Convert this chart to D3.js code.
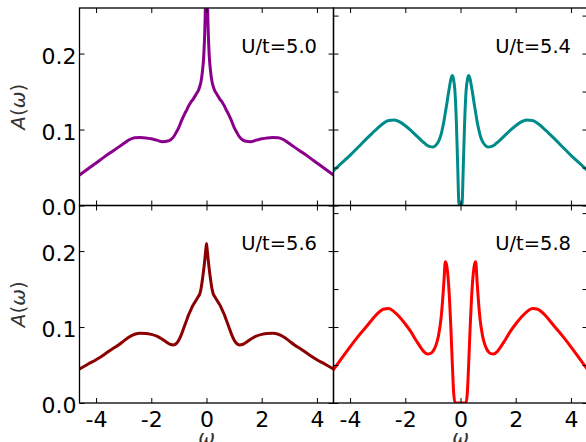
<!DOCTYPE html>
<html>
<head>
<meta charset="utf-8">
<script src="https://cdn.jsdelivr.net/npm/d3@7"></script>
<style>
  html, body { margin: 0; padding: 0; background: #fff; }
  svg { display: block; font-family: "DejaVu Sans", sans-serif; }
</style>
</head>
<body>
<svg id="chart" width="586" height="442"></svg>
<script>
// Frequency grid (omega) shared by all four spectra
const omega = [-4.6,-4.3,-4.0,-3.7,-3.4,-3.2,-3.0,-2.8,-2.6,-2.4,-2.2,-2.0,-1.8,-1.6,-1.4,-1.3,-1.2,-1.1,-1.0,-0.9,-0.8,-0.7,-0.65,-0.6,-0.55,-0.5,-0.45,-0.4,-0.35,-0.3,-0.25,-0.2,-0.15,-0.1,-0.06,-0.03,
  0,
  0.03,0.06,0.1,0.15,0.2,0.25,0.3,0.35,0.4,0.45,0.5,0.55,0.6,0.65,0.7,0.8,0.9,1.0,1.1,1.2,1.3,1.4,1.6,1.8,2.0,2.2,2.4,2.6,2.8,3.0,3.2,3.4,3.7,4.0,4.3,4.6];

// Spectral function A(omega) for each interaction strength
const a50 = [0.0400,0.0480,0.0560,0.0640,0.0715,0.0765,0.0815,0.0865,0.0892,0.0895,0.0890,0.0878,0.0860,0.0840,0.0848,0.0865,0.090,0.096,0.103,0.112,0.120,0.127,0.131,0.134,0.137,0.139,0.142,0.145,0.148,0.151,0.156,0.163,0.176,0.197,0.232,0.285,
  0.40,
  0.285,0.232,0.197,0.176,0.163,0.156,0.151,0.148,0.145,0.142,0.139,0.137,0.134,0.131,0.127,0.120,0.112,0.103,0.096,0.090,0.0865,0.0848,0.0840,0.0860,0.0878,0.0890,0.0895,0.0892,0.0865,0.0815,0.0765,0.0715,0.0640,0.0560,0.0480,0.0400];

const a54 = [0.046,0.056,0.066,0.077,0.088,0.095,0.102,0.108,0.112,0.1125,0.110,0.105,0.099,0.092,0.085,0.082,0.079,0.0775,0.077,0.079,0.084,0.094,0.102,0.111,0.122,0.133,0.145,0.156,0.166,0.171,0.166,0.150,0.11,0.05,0.004,0.0,
  0.0,
  0.0,0.004,0.05,0.11,0.150,0.166,0.171,0.166,0.156,0.145,0.133,0.122,0.111,0.102,0.094,0.084,0.079,0.077,0.0775,0.079,0.082,0.085,0.092,0.099,0.105,0.110,0.1125,0.112,0.108,0.102,0.095,0.088,0.077,0.066,0.056,0.046];

const a56 = [0.0447,0.0510,0.0570,0.0640,0.0715,0.0760,0.0815,0.0870,0.0905,0.0917,0.0915,0.0903,0.0880,0.0840,0.0790,0.0770,0.0765,0.078,0.083,0.091,0.101,0.111,0.116,0.120,0.124,0.128,0.131,0.134,0.137,0.140,0.143,0.150,0.162,0.176,0.189,0.200,
  0.210,
  0.200,0.189,0.176,0.162,0.150,0.143,0.140,0.137,0.134,0.131,0.128,0.124,0.120,0.116,0.111,0.101,0.091,0.083,0.078,0.0765,0.0770,0.0790,0.0840,0.0880,0.0903,0.0915,0.0917,0.0905,0.0870,0.0815,0.0760,0.0715,0.0640,0.0570,0.0510,0.0447];

const a58 = [0.044,0.059,0.074,0.088,0.101,0.110,0.118,0.1235,0.1245,0.120,0.113,0.104,0.094,0.082,0.071,0.0665,0.0645,0.065,0.068,0.075,0.088,0.113,0.134,0.160,0.186,0.181,0.165,0.138,0.100,0.055,0.015,0.0,0.0,0.0,0.0,0.0,
  0.0,
  0.0,0.0,0.0,0.0,0.0,0.015,0.055,0.100,0.138,0.165,0.181,0.186,0.160,0.134,0.113,0.088,0.075,0.068,0.065,0.0645,0.0665,0.071,0.082,0.094,0.104,0.113,0.120,0.1245,0.1235,0.118,0.110,0.101,0.088,0.074,0.059,0.044];

const panelLabels = ["U/t=5.0", "U/t=5.4", "U/t=5.6", "U/t=5.8"];
const xTicks = [-4, -2, 0, 2, 4];
const yTicksMajor = [0, 0.1, 0.2];
const yTicksFine = [0, 0.05, 0.1, 0.15, 0.2, 0.25];

// Layout and styling
const lineColors = ["#8b008b", "#008b8b", "#8b0000", "#ff0000"];
const W = 254, H = 197.5;
const colLeft = [79.5, 333.5];
const rowTop = [8, 205.5];

const x = d3.scaleLinear().domain([-4.6, 4.6]).range([0, W]);
const y = d3.scaleLinear().domain([0, 0.26]).range([H, 0]);

const svg = d3.select("#chart");
const seriesList = [a50, a54, a56, a58];

const line = d3.line()
  .x(d => x(d[0]))
  .y(d => y(d[1]))
  .curve(d3.curveMonotoneX);

function styleAxis(g) {
  g.select(".domain").remove();
  g.selectAll(".tick line").attr("stroke", "#000").attr("stroke-width", 1);
  g.selectAll(".tick text").attr("fill", "#000").style("font-size", "22px")
    .style("font-family", "'DejaVu Sans', sans-serif");
}

seriesList.forEach((vals, i) => {
  const col = i % 2, row = Math.floor(i / 2);
  const g = svg.append("g").attr("transform", `translate(${colLeft[col]},${rowTop[row]})`);

  const clipId = "clip" + i;
  g.append("clipPath").attr("id", clipId)
    .append("rect").attr("x", 0).attr("y", 0).attr("width", W).attr("height", H);

  const pts = omega.map((w, k) => [w, vals[k]]);
  g.append("path")
    .attr("clip-path", `url(#${clipId})`)
    .attr("d", line(pts))
    .attr("fill", "none")
    .attr("stroke", lineColors[i])
    .attr("stroke-width", 3)
    .attr("stroke-linejoin", "round")
    .attr("stroke-linecap", "round");

  // Inward ticks on all four sides
  const showX = row === 1;
  g.append("g").attr("transform", `translate(0,${H})`)
    .call(d3.axisBottom(x).tickValues(xTicks).tickSizeInner(-5).tickSizeOuter(0).tickPadding(8)
      .tickFormat(d => showX ? String(d) : ""))
    .call(styleAxis);
  g.append("g")
    .call(d3.axisTop(x).tickValues(xTicks).tickSizeInner(-5).tickSizeOuter(0).tickFormat(() => ""))
    .call(styleAxis);

  const yt = col === 0 ? yTicksMajor : yTicksFine;
  g.append("g")
    .call(d3.axisLeft(y).tickValues(yt).tickSizeInner(-5).tickSizeOuter(0).tickPadding(3)
      .tickFormat(d => col === 0 ? d3.format(".1f")(d) : ""))
    .call(styleAxis)
    .call(a => a.selectAll(".tick text").attr("dy", "0.43em"));
  g.append("g").attr("transform", `translate(${W},0)`)
    .call(d3.axisRight(y).tickValues(yt).tickSizeInner(-5).tickSizeOuter(0).tickFormat(() => ""))
    .call(styleAxis);

  // Frame
  g.append("rect")
    .attr("x", 0).attr("y", 0).attr("width", W).attr("height", H)
    .attr("fill", "none").attr("stroke", "#000").attr("stroke-width", 1.3);

  // Panel label
  g.append("text")
    .attr("x", W - 16.5).attr("y", 44.5)
    .attr("text-anchor", "end")
    .style("font-size", "19.5px")
    .attr("fill", "#000")
    .text(panelLabels[i]);

  // Axis titles
  if (col === 0) {
    const t = svg.append("text")
      .attr("transform", `translate(25,${rowTop[row] + H / 2}) rotate(-90)`)
      .attr("text-anchor", "middle")
      .style("font-size", "20px")
      .attr("fill", "#333");
    t.append("tspan").style("font-style", "italic").text("A");
    t.append("tspan").text("(");
    t.append("tspan").style("font-style", "italic").text("ω");
    t.append("tspan").text(")");
  }
  if (row === 1) {
    svg.append("text")
      .attr("x", colLeft[col] + x(0)).attr("y", 444)
      .attr("text-anchor", "middle")
      .style("font-size", "20px")
      .style("font-style", "italic")
      .attr("fill", "#333")
      .text("ω");
  }
});
</script>
</body>
</html>
